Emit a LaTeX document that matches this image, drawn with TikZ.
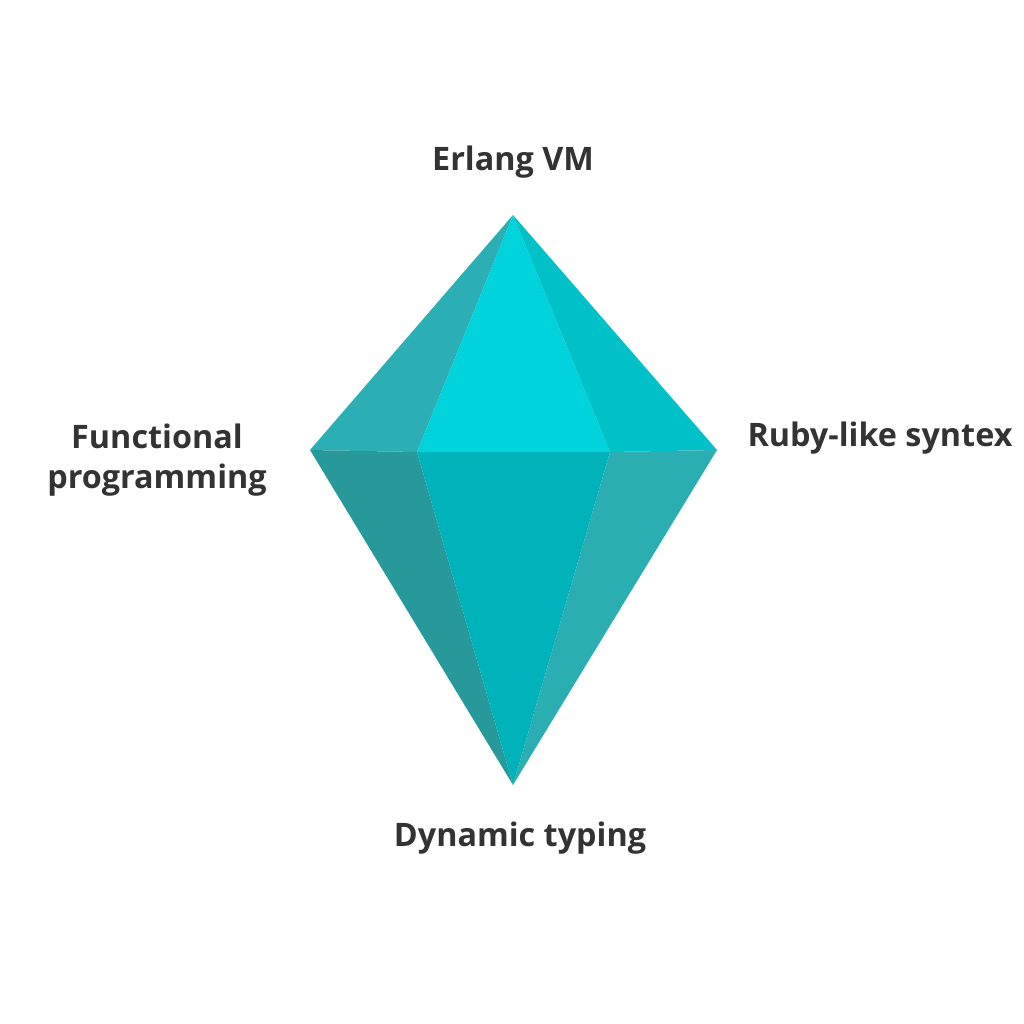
\documentclass[tikz,border=0pt]{standalone}
\usepackage{fontspec}
\setmainfont{Open Sans}
\begin{document}
\begin{tikzpicture}[x=0.01cm,y=-0.01cm,
  lbl/.style={font=\fontsize{9.2pt}{11.5pt}\selectfont\bfseries, text=black!80, align=center}]
\useasboundingbox (0,0) rectangle (1024,1024);
\coordinate (T) at (513,215);
\coordinate (L) at (310,450);
\coordinate (R) at (717,450);
\coordinate (B) at (513,785);
\coordinate (IL) at (417,452);
\coordinate (IR) at (610,452);
\fill[fill={rgb,255:red,43;green,175;blue,181}] (T)--(L)--(IL)--cycle;
\fill[fill={rgb,255:red,0;green,211;blue,220}] (T)--(IL)--(IR)--cycle;
\fill[fill={rgb,255:red,0;green,193;blue,200}] (T)--(IR)--(R)--cycle;
\fill[fill={rgb,255:red,39;green,153;blue,154}] (L)--(IL)--(B)--cycle;
\fill[fill={rgb,255:red,0;green,178;blue,186}] (IL)--(IR)--(B)--cycle;
\fill[fill={rgb,255:red,42;green,174;blue,178}] (IR)--(R)--(B)--cycle;
\node[lbl] (erl) at (513,162) {Erlang VM};
\node[lbl] (fun) at (157,460) {Functional\\programming};
\node[lbl] (ruby) at (880,438) {Ruby-like syntex};
\node[lbl] (dyn) at (520,838) {Dynamic typing};
\end{tikzpicture}
\end{document}
